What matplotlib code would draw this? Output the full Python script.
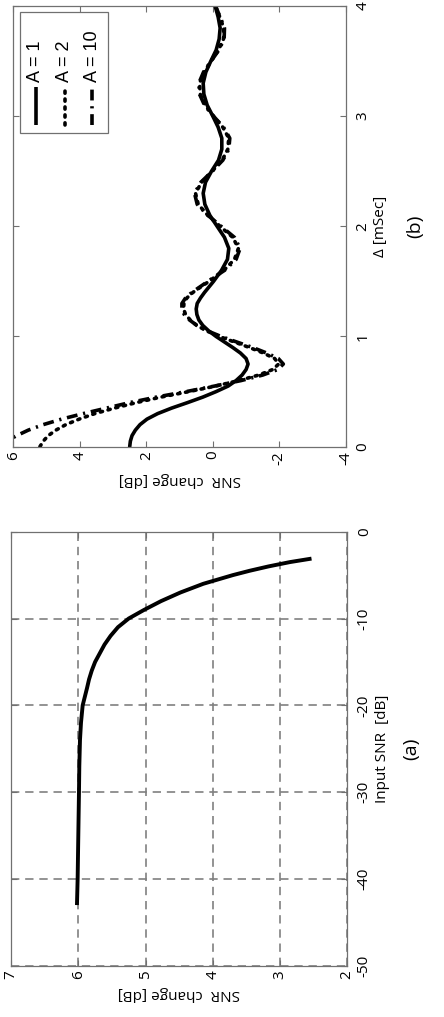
import matplotlib
matplotlib.use("Agg")
import matplotlib.pyplot as plt
from matplotlib.patches import Rectangle

plt.rcParams['font.family'] = ['Open Sans', 'DejaVu Sans']

# panel (a): SNR change vs input SNR
input_snr = [-43, -40, -35, -30, -27, -24, -22, -20, -18, -17, -16, -15, -14, -13,
             -12, -11, -10, -9, -8, -7, -6, -5, -4.5, -4, -3.5, -3.1]
snr_change_a = [6.02, 6.01, 6.0, 5.99, 5.985, 5.975, 5.96, 5.935, 5.87, 5.84, 5.80, 5.75, 5.68, 5.61,
                5.52, 5.41, 5.25, 5.02, 4.77, 4.48, 4.14, 3.70, 3.45, 3.17, 2.85, 2.53]

# panel (b): SNR change vs delta for three A values
delta = [0.0, 0.05, 0.1, 0.15, 0.2, 0.25, 0.3, 0.35, 0.4, 0.45, 0.5, 0.55, 0.6, 0.65,
         0.7, 0.75, 0.8, 0.85, 0.9, 0.95, 1.0, 1.05, 1.1, 1.15, 1.2, 1.25, 1.3, 1.35, 1.4,
         1.5, 1.6, 1.7, 1.8, 1.9, 2.0, 2.1, 2.2, 2.3, 2.4, 2.5, 2.6, 2.7, 2.8, 2.9,
         3.0, 3.1, 3.2, 3.3, 3.4, 3.5, 3.6, 3.7, 3.8, 3.9, 4.0]
snr_a1 = [2.50, 2.48, 2.43, 2.33, 2.19, 1.98, 1.66, 1.24, 0.76, 0.30, -0.10, -0.46, -0.70, -0.88,
          -1.00, -1.06, -1.00, -0.83, -0.60, -0.35, -0.10, 0.12, 0.30, 0.42, 0.48, 0.50, 0.47, 0.37, 0.25,
          -0.02, -0.26, -0.44, -0.48, -0.35, -0.13, 0.09, 0.24, 0.29, 0.22, 0.04, -0.17, -0.27, -0.27, -0.16,
          0.0, 0.17, 0.27, 0.29, 0.21, 0.06, -0.10, -0.19, -0.22, -0.16, -0.07]
snr_a2 = [5.20, 5.10, 4.95, 4.72, 4.42, 4.02, 3.55, 2.96, 2.30, 1.56, 0.72, -0.08, -0.78, -1.38,
          -1.80, -1.98, -1.86, -1.52, -1.10, -0.65, -0.20, 0.18, 0.48, 0.68, 0.82, 0.88, 0.87, 0.78, 0.60,
          0.12, -0.33, -0.65, -0.77, -0.60, -0.22, 0.15, 0.44, 0.52, 0.34, 0.02, -0.28, -0.45, -0.48, -0.30,
          -0.02, 0.23, 0.38, 0.40, 0.26, 0.05, -0.17, -0.32, -0.33, -0.21, -0.08]
snr_a10 = [6.50, 6.20, 5.90, 5.55, 5.10, 4.55, 3.90, 3.20, 2.50, 1.70, 0.80, -0.05, -0.85, -1.50,
           -1.95, -2.12, -1.97, -1.62, -1.20, -0.72, -0.25, 0.15, 0.48, 0.70, 0.86, 0.93, 0.93, 0.82, 0.63,
           0.15, -0.35, -0.70, -0.82, -0.65, -0.25, 0.15, 0.47, 0.55, 0.36, 0.02, -0.30, -0.48, -0.51, -0.32,
           -0.02, 0.25, 0.40, 0.42, 0.28, 0.05, -0.18, -0.34, -0.35, -0.22, -0.08]
legend_labels = ['A = 1', 'A = 2', 'A = 10']

ticks_a_change = [7, 6, 5, 4, 3, 2]
ticks_a_input = [-50, -40, -30, -20, -10, 0]
ticks_b_change = [6, 4, 2, 0, -2, -4]
ticks_b_delta = [0, 1, 2, 3, 4]

spine_col = '#707070'
fig = plt.figure(figsize=(4.44, 10.17), dpi=100)
ax_b = fig.add_axes([0.030, 0.5608, 0.7489, 0.4333])
ax_a = fig.add_axes([0.025, 0.0503, 0.7568, 0.4269])


def style(ax, xt, yt):
    ax.set_xticks(xt)
    ax.set_xticklabels([str(t) for t in xt], rotation=90, ha='center', va='top')
    ax.set_yticks(yt)
    ax.set_yticklabels([str(t) for t in yt], rotation=90, ha='left', va='center')
    ax.tick_params(which='both', direction='in', length=4, width=0.8, color=spine_col,
                   top=True, bottom=True, left=True, right=True,
                   labelleft=False, labelright=True, labelsize=11)
    ax.tick_params(axis='x', pad=3)
    ax.tick_params(axis='y', pad=7)
    for s in ax.spines.values():
        s.set_color(spine_col)
        s.set_linewidth(0.9)
    ax.yaxis.set_label_position('right')


# (a)
ax_a.plot(snr_change_a, input_snr, color='black', lw=2.8, solid_capstyle='butt',
          solid_joinstyle='round')
ax_a.set_xlim(7, 2)
ax_a.set_ylim(-50, 0)
style(ax_a, ticks_a_change, ticks_a_input)
ax_a.grid(True, color='#808080', lw=1.2, linestyle=(0, (5, 3.5)))
ax_a.set_axisbelow(True)
ax_a.set_xlabel('SNR  change [dB]', rotation=180, fontsize=11, labelpad=5)
ax_a.set_ylabel('Input SNR  [dB]', rotation=90, fontsize=11, labelpad=2)
ax_a.text(1.19, 0.5, '(a)', transform=ax_a.transAxes, rotation=90, fontsize=14,
          ha='center', va='center')

# (b)
ax_b.plot(snr_a1, delta, color='black', lw=2.6, solid_capstyle='round')
ax_b.plot(snr_a2, delta, color='black', lw=2.6, linestyle=(0, (0.6, 1.6)),
          dash_capstyle='round')
ax_b.plot(snr_a10, delta, color='black', lw=2.6, linestyle=(0, (3, 1.6, 0.6, 1.6)))
ax_b.set_xlim(6, -4)
ax_b.set_ylim(0, 4)
style(ax_b, ticks_b_change, ticks_b_delta)
ax_b.set_xlabel('SNR  change [dB]', rotation=180, fontsize=11, labelpad=5)
ax_b.set_ylabel('\u0394 [mSec]', rotation=90, fontsize=11, labelpad=2)
ax_b.text(1.21, 0.5, '(b)', transform=ax_b.transAxes, rotation=90, fontsize=14,
          ha='center', va='center')

# legend drawn by hand, rotated like the rest of the figure
ax_b.add_patch(Rectangle((0.02, 0.712), 0.265, 0.275, transform=ax_b.transAxes,
                         facecolor='white', edgecolor=spine_col, lw=0.9, zorder=5))
styles = [dict(linestyle='-', solid_capstyle='butt'),
          dict(linestyle=(0, (0.6, 1.6)), dash_capstyle='round'),
          dict(linestyle=(0, (3, 1.6, 0.6, 1.6)))]
cols = [0.068, 0.155, 0.237]
for xc, lab, st in zip(cols, legend_labels, styles):
    ax_b.plot([xc, xc], [0.730, 0.816], transform=ax_b.transAxes, color='black',
              lw=2.6, zorder=6, **st)
    ax_b.text(xc, 0.827, lab, transform=ax_b.transAxes, rotation=90,
              rotation_mode='anchor', ha='left', va='center', fontsize=13,
              family=['Liberation Sans', 'DejaVu Sans'], zorder=6)

fig.savefig('out.png', dpi=100)
